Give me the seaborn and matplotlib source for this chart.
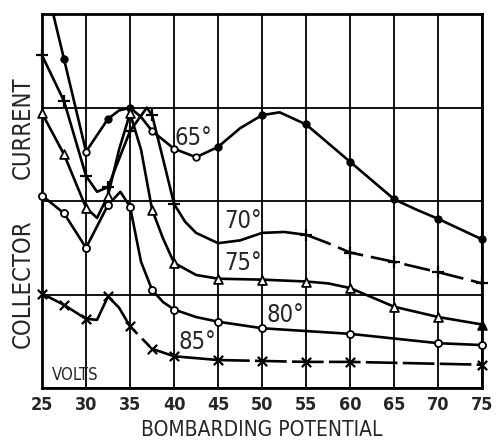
import numpy as np
import pandas as pd
import matplotlib
matplotlib.use("Agg")
import matplotlib.pyplot as plt
import seaborn as sns

# bombarding potential (volts) and collector current (arbitrary units, curves offset)
VOLT_TICKS = [25, 30, 35, 40, 45, 50, 55, 60, 65, 70, 75]

# 65 deg
x65 = [25, 27.5, 30, 32.5, 33.75, 35, 36.25, 37.5, 40, 42.5, 45, 47.5, 50, 52, 55, 57.5, 60, 62.5, 65, 67.5, 70, 75]
y65 = [4.5, 3.52, 2.53, 2.88, 2.97, 3.0, 2.90, 2.75, 2.56, 2.47, 2.58, 2.78, 2.92, 2.95, 2.82, 2.62, 2.42, 2.22, 2.02, 1.91, 1.81, 1.59]
marks65 = [27.5, 30, 32.5, 35, 37.5, 40, 42.5, 45, 50, 55, 60, 65, 70, 75]
open65 = [30, 37.5, 40, 42.5]

# 70 deg
x70 = [25, 27.5, 30, 31.25, 32.5, 33.75, 35, 36.9, 37.5, 38.75, 40, 41.25, 42.5, 45, 47.5, 50, 52.5, 55, 57.5, 60, 62.5, 65, 70, 75]
y70 = [3.56, 3.07, 2.27, 2.10, 2.15, 2.45, 2.75, 3.0, 2.92, 2.45, 1.97, 1.78, 1.66, 1.55, 1.58, 1.66, 1.67, 1.64, 1.55, 1.45, 1.40, 1.35, 1.24, 1.12]
marks70 = [25, 27.5, 30, 32.5, 35, 37.5, 40, 55, 60, 65, 70, 75]

# 75 deg
x75 = [25, 27.5, 30, 31.25, 32.5, 33.75, 35, 36.25, 37.5, 38.75, 40, 42.5, 45, 50, 55, 57.5, 60, 62.5, 65, 70, 75]
y75 = [2.94, 2.50, 1.93, 1.82, 2.06, 2.55, 2.94, 2.55, 1.91, 1.60, 1.34, 1.21, 1.17, 1.16, 1.14, 1.12, 1.07, 0.97, 0.87, 0.76, 0.68]
marks75 = [25, 27.5, 30, 32.5, 35, 37.5, 40, 45, 50, 55, 60, 65, 70, 75]

# 80 deg
x80 = [25, 27.5, 30, 31.25, 32.5, 33.9, 35, 36.25, 37.5, 38.75, 40, 42.5, 45, 50, 55, 60, 65, 70, 75]
y80 = [2.06, 1.87, 1.50, 1.73, 1.96, 2.10, 1.94, 1.35, 1.05, 0.92, 0.84, 0.76, 0.71, 0.64, 0.61, 0.58, 0.53, 0.48, 0.46]
marks80 = [25, 27.5, 30, 32.5, 35, 37.5, 40, 45, 50, 60, 70, 75]

# 85 deg
x85 = [25, 27.5, 30, 31.25, 32.5, 33.75, 35, 37.5, 40, 45, 50, 55, 60, 65, 70, 75]
y85 = [1.01, 0.89, 0.74, 0.73, 0.98, 0.86, 0.66, 0.42, 0.34, 0.30, 0.29, 0.28, 0.28, 0.27, 0.26, 0.25]
marks85 = [25, 27.5, 30, 32.5, 35, 37.5, 40, 45, 50, 55, 60, 75]

sns.set_style("white")
plt.rcParams["font.family"] = ["DejaVu Sans"]
plt.rcParams["font.stretch"] = "condensed"

LW = 1.9


def draw_line(ax, xs, ys, segs):
    df = pd.DataFrame({"x": xs, "y": ys})
    for x0, x1, ls in segs:
        part = df[(df.x >= x0) & (df.x <= x1)]
        sns.lineplot(data=part, x="x", y="y", ax=ax, color="black", lw=LW,
                     linestyle=ls, sort=False, estimator=None)


def draw_marks(ax, xs, ys, keep, marker, size, face="white"):
    df = pd.DataFrame({"x": xs, "y": ys})
    part = df[df.x.isin(keep)]
    if marker in ("+", "x"):
        sns.scatterplot(data=part, x="x", y="y", ax=ax, marker=marker, s=size,
                        color="black", linewidth=1.6, zorder=5, clip_on=False)
    else:
        sns.scatterplot(data=part, x="x", y="y", ax=ax, marker=marker, s=size,
                        facecolor=face, edgecolor="black", linewidth=1.3,
                        zorder=5, clip_on=False)


fig = plt.figure(figsize=(4.96, 4.43), dpi=100)
ax = fig.add_axes([0.0847, 0.124, 0.8875, 0.844])

draw_line(ax, x65, y65, [(25, 75, "-")])
draw_line(ax, x70, y70, [(25, 55, "-"), (55, 75, (0, (10, 3)))])
draw_line(ax, x75, y75, [(25, 75, "-")])
draw_line(ax, x80, y80, [(25, 75, "-")])
draw_line(ax, x85, y85, [(25, 35, "-"), (35, 37.5, (0, (4, 2.5))),
                         (37.5, 45, "-"), (45, 75, (0, (12, 2)))])

filled65 = [v for v in marks65 if v not in open65]
draw_marks(ax, x65, y65, filled65, "o", 22, face="black")
draw_marks(ax, x65, y65, open65, "o", 22)
draw_marks(ax, x70, y70, marks70, "+", 80)
draw_marks(ax, x75, y75, marks75[:-1], "^", 40)
draw_marks(ax, x75, y75, marks75[-1:], "^", 40, face="black")
draw_marks(ax, x80, y80, marks80, "o", 26)
draw_marks(ax, x85, y85, marks85, "x", 45)

# curve labels
ax.text(42.2, 2.67, "65°", fontsize=17, ha="center", va="center")
ax.text(47.8, 1.79, "70°", fontsize=17, ha="center", va="center")
ax.text(47.8, 1.34, "75°", fontsize=17, ha="center", va="center")
ax.text(52.6, 0.78, "80°", fontsize=17, ha="center", va="center")
ax.text(42.6, 0.49, "85°", fontsize=17, ha="center", va="center")
ax.text(28.75, 0.14, "VOLTS", fontsize=12, ha="center", va="center")

ax.set_xlim(25, 75)
ax.set_ylim(0, 4)
ax.set_xticks(VOLT_TICKS)
ax.set_xticklabels([str(v) for v in VOLT_TICKS], fontsize=13, fontweight="bold")
ax.set_yticks([0, 1, 2, 3, 4])
ax.set_yticklabels([])
ax.tick_params(length=0, pad=6)
ax.grid(True, color="black", lw=1.3)
for s in ax.spines.values():
    s.set_linewidth(2)
    s.set_color("black")
ax.set_xlabel("BOMBARDING POTENTIAL", fontsize=15, labelpad=4)
ax.set_ylabel("")

fig.text(0.046, 0.711, "CURRENT", rotation=90, fontsize=17, ha="center", va="center")
fig.text(0.046, 0.359, "COLLECTOR", rotation=90, fontsize=17, ha="center", va="center")

fig.savefig("out.png", dpi=100)
